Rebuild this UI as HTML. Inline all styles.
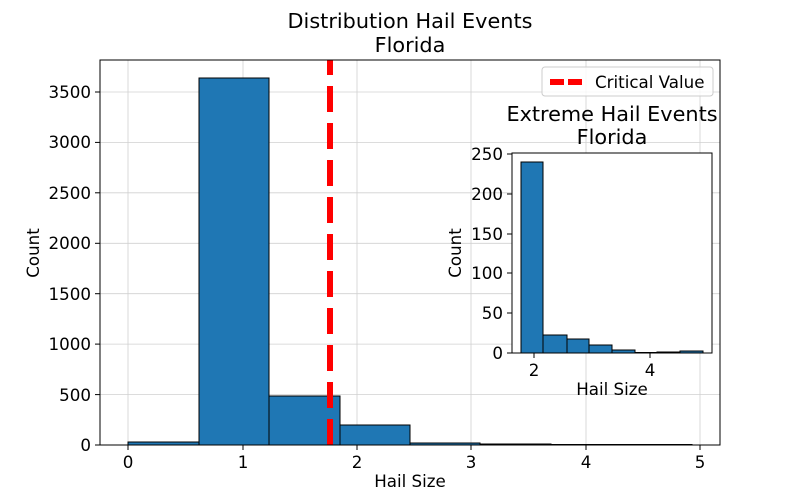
<!DOCTYPE html>
<html><head><style>body{margin:0;background:#fff}svg{display:block}</style></head><body>
<svg width="800" height="500" xmlns="http://www.w3.org/2000/svg" font-family="DejaVu Sans, Liberation Sans, sans-serif">
<rect width="800" height="500" fill="#fff"/>
<g stroke="#d0d0d0" stroke-width="0.8">
<line x1="128" y1="60" x2="128" y2="445"/><line x1="243" y1="60" x2="243" y2="445"/><line x1="357" y1="60" x2="357" y2="445"/><line x1="471" y1="60" x2="471" y2="445"/><line x1="586" y1="60" x2="586" y2="445"/><line x1="700" y1="60" x2="700" y2="445"/>
<line x1="100" y1="394.6" x2="720" y2="394.6"/><line x1="100" y1="344.1" x2="720" y2="344.1"/><line x1="100" y1="293.7" x2="720" y2="293.7"/><line x1="100" y1="243.3" x2="720" y2="243.3"/><line x1="100" y1="192.8" x2="720" y2="192.8"/><line x1="100" y1="142.4" x2="720" y2="142.4"/><line x1="100" y1="92" x2="720" y2="92"/>
</g>
<g fill="#1f77b4" stroke="#000" stroke-width="1">
<rect x="128" y="442" width="71" height="3"/>
<rect x="199" y="78" width="70" height="367"/>
<rect x="269" y="396" width="71" height="49"/>
<rect x="340" y="425" width="70" height="20"/>
<rect x="410" y="443" width="70" height="2"/>
<rect x="480" y="444" width="71" height="1"/>
<rect x="551" y="444.5" width="141" height="0.5"/>
</g>
<line x1="330" y1="445" x2="330" y2="60" stroke="#ff0000" stroke-width="6" stroke-dasharray="26 11"/>
<rect x="100" y="60" width="620" height="385" fill="none" stroke="#000" stroke-width="1"/>
<g stroke="#000" stroke-width="1">
<line x1="128" y1="445" x2="128" y2="450"/><line x1="243" y1="445" x2="243" y2="450"/><line x1="357" y1="445" x2="357" y2="450"/><line x1="471" y1="445" x2="471" y2="450"/><line x1="586" y1="445" x2="586" y2="450"/><line x1="700" y1="445" x2="700" y2="450"/>
<line x1="95" y1="445" x2="100" y2="445"/><line x1="95" y1="394.6" x2="100" y2="394.6"/><line x1="95" y1="344.1" x2="100" y2="344.1"/><line x1="95" y1="293.7" x2="100" y2="293.7"/><line x1="95" y1="243.3" x2="100" y2="243.3"/><line x1="95" y1="192.8" x2="100" y2="192.8"/><line x1="95" y1="142.4" x2="100" y2="142.4"/><line x1="95" y1="92" x2="100" y2="92"/>
</g>
<g font-size="16.7" fill="#000" text-anchor="middle">
<text x="128" y="468">0</text><text x="243" y="468">1</text><text x="357" y="468">2</text><text x="471" y="468">3</text><text x="586" y="468">4</text><text x="700" y="468">5</text>
</g>
<g font-size="16.7" fill="#000" text-anchor="end">
<text x="91" y="451">0</text><text x="91" y="401">500</text><text x="91" y="350">1000</text><text x="91" y="300">1500</text><text x="91" y="249">2000</text><text x="91" y="199">2500</text><text x="91" y="148">3000</text><text x="91" y="98">3500</text>
</g>
<text x="410" y="487" font-size="16.7" text-anchor="middle">Hail Size</text>
<text x="39" y="253" font-size="16.7" text-anchor="middle" transform="rotate(-90 39 253)">Count</text>
<text x="410" y="28" font-size="20.8" text-anchor="middle">Distribution Hail Events</text>
<text x="410" y="52" font-size="20.8" text-anchor="middle">Florida</text>
<rect x="542" y="67" width="171" height="29" rx="3" fill="#fff" fill-opacity="0.8" stroke="#ccc"/>
<line x1="550" y1="82" x2="583" y2="82" stroke="#ff0000" stroke-width="6" stroke-dasharray="14 4"/>
<text x="595" y="88" font-size="16.7">Critical Value</text>
<rect x="512" y="153" width="200" height="200" fill="#fff"/>
<g fill="#1f77b4" stroke="#000" stroke-width="1">
<rect x="521" y="162" width="22" height="191"/>
<rect x="543" y="335" width="24" height="18"/>
<rect x="567" y="339" width="22" height="14"/>
<rect x="589" y="345" width="23" height="8"/>
<rect x="612" y="350" width="23" height="3"/>
<rect x="635" y="352.5" width="22" height="0.5"/>
<rect x="657" y="352" width="23" height="1"/>
<rect x="680" y="351" width="23" height="2"/>
</g>
<rect x="512" y="153" width="200" height="200" fill="none" stroke="#000" stroke-width="1"/>
<g stroke="#000" stroke-width="1">
<line x1="534" y1="353" x2="534" y2="358"/><line x1="650" y1="353" x2="650" y2="358"/>
<line x1="507" y1="353" x2="512" y2="353"/><line x1="507" y1="313" x2="512" y2="313"/><line x1="507" y1="273" x2="512" y2="273"/><line x1="507" y1="234" x2="512" y2="234"/><line x1="507" y1="194" x2="512" y2="194"/><line x1="507" y1="154" x2="512" y2="154"/>
</g>
<g font-size="16.7" text-anchor="middle"><text x="534" y="376">2</text><text x="650" y="376">4</text></g>
<g font-size="16.7" text-anchor="end">
<text x="503" y="359">0</text><text x="503" y="319">50</text><text x="503" y="279">100</text><text x="503" y="240">150</text><text x="503" y="200">200</text><text x="503" y="160">250</text>
</g>
<text x="612" y="395" font-size="16.7" text-anchor="middle">Hail Size</text>
<text x="461" y="253" font-size="16.7" text-anchor="middle" transform="rotate(-90 461 253)">Count</text>
<text x="612" y="121" font-size="20.8" text-anchor="middle">Extreme Hail Events</text>
<text x="612" y="144" font-size="20.8" text-anchor="middle">Florida</text>
</svg>
</body></html>
